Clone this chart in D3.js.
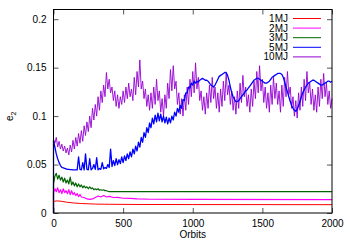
<!DOCTYPE html>
<html>
<head>
<meta charset="utf-8">
<script src="https://cdn.jsdelivr.net/npm/d3@7"></script>
<style>
  body { margin: 0; background: #fff; }
  text { font-family: "Liberation Sans", Arial, sans-serif; }
</style>
</head>
<body>
<svg id="orbit-chart" width="350" height="245"></svg>
<script>
// e2 values
const e2Start = 0
const step10MJ = 10
const step5MJ = 10

const xTicks = [0, 500, 1000, 1500, 2000]
const yTicks = [0, 0.05, 0.1, 0.15, 0.2]
const legendNames = ["1MJ", "2MJ", "3MJ", "5MJ", "10MJ"]

const e2_1MJ = [[0, 0.012], [30, 0.0125], [60, 0.012], [100, 0.011], [150, 0.0103], [200, 0.0098],
  [300, 0.0092], [400, 0.009], [600, 0.0088], [1000, 0.0087], [2000, 0.0086]]

const e2_2MJ = [[0, 0.021], [10, 0.025], [20, 0.022], [30, 0.026], [40, 0.021], [50, 0.024], [60, 0.02],
  [70, 0.025], [80, 0.021], [90, 0.023], [100, 0.02], [110, 0.024], [120, 0.019], [130, 0.023],
  [140, 0.019], [150, 0.021], [160, 0.018], [170, 0.02], [180, 0.017], [190, 0.019], [200, 0.0165],
  [220, 0.016], [240, 0.0145], [260, 0.014], [280, 0.0145], [300, 0.016], [320, 0.0175], [340, 0.0165],
  [360, 0.018], [380, 0.0165], [400, 0.0172], [430, 0.016], [460, 0.0162], [500, 0.0152], [550, 0.015],
  [600, 0.0145], [700, 0.0142], [1000, 0.014], [2000, 0.0138]]

const e2_3MJ = [[0, 0.03], [10, 0.038], [20, 0.041], [30, 0.035], [40, 0.039], [50, 0.034], [60, 0.037],
  [70, 0.032], [80, 0.036], [90, 0.031], [100, 0.034], [110, 0.03], [120, 0.037], [130, 0.029],
  [140, 0.032], [150, 0.028], [160, 0.031], [170, 0.027], [180, 0.03], [190, 0.027], [200, 0.029],
  [210, 0.026], [220, 0.028], [230, 0.026], [240, 0.027], [250, 0.025], [260, 0.027], [270, 0.025],
  [280, 0.026], [290, 0.024], [300, 0.025], [310, 0.024], [320, 0.025], [330, 0.0235], [340, 0.024],
  [350, 0.0235], [360, 0.024], [370, 0.023], [380, 0.023], [390, 0.0225], [400, 0.022],
  [1000, 0.022], [2000, 0.022]]

const e2_5MJ = [
  0.075, 0.068, 0.061, 0.056, 0.052, 0.049, 0.047, 0.0465, 0.046, 0.0455,
  0.045, 0.045, 0.0448, 0.0448, 0.0446, 0.0446, 0.0445, 0.0445, 0.058, 0.045,
  0.0445, 0.052, 0.0445, 0.061, 0.045, 0.0445, 0.056, 0.0445, 0.046, 0.05,
  0.045, 0.057, 0.0445, 0.046, 0.045, 0.052, 0.0455, 0.047, 0.046, 0.05,
  0.047, 0.066, 0.048, 0.054, 0.049, 0.056, 0.05, 0.055, 0.051, 0.058,
  0.052, 0.059, 0.054, 0.061, 0.056, 0.063, 0.058, 0.066, 0.061, 0.069,
  0.064, 0.073, 0.068, 0.078, 0.073, 0.083, 0.078, 0.088, 0.083, 0.093,
  0.088, 0.098, 0.092, 0.101, 0.094, 0.103, 0.095, 0.102, 0.094, 0.1,
  0.093, 0.099, 0.092, 0.098, 0.093, 0.1, 0.096, 0.104, 0.1, 0.108,
  0.104, 0.111, 0.108, 0.117, 0.116, 0.124, 0.124, 0.13, 0.129, 0.134,
  0.132, 0.136, 0.134, 0.136, 0.135, 0.137, 0.138, 0.139, 0.138, 0.137,
  0.137, 0.136, 0.134, 0.132, 0.131, 0.13, 0.132, 0.135, 0.138, 0.141,
  0.142, 0.143, 0.144, 0.145, 0.145, 0.142, 0.137, 0.13, 0.124, 0.12,
  0.117, 0.115, 0.115, 0.116, 0.118, 0.12, 0.122, 0.124, 0.126, 0.127,
  0.129, 0.131, 0.133, 0.135, 0.137, 0.138, 0.139, 0.139, 0.138, 0.137,
  0.136, 0.135, 0.134, 0.134, 0.135, 0.136, 0.138, 0.14, 0.141, 0.142,
  0.143, 0.144, 0.144, 0.144, 0.143, 0.14, 0.135, 0.13, 0.125, 0.12,
  0.115, 0.111, 0.108, 0.106, 0.105, 0.107, 0.111, 0.115, 0.12, 0.124,
  0.127, 0.13, 0.132, 0.134, 0.135, 0.136, 0.137, 0.137, 0.136, 0.135,
  0.134, 0.133, 0.132, 0.132, 0.133, 0.134, 0.135, 0.136, 0.136, 0.135,
  0.136]

const e2_10MJ = [
  0.076, 0.072, 0.078, 0.068, 0.074, 0.066, 0.071, 0.064, 0.069, 0.062,
  0.067, 0.06, 0.07, 0.063, 0.075, 0.066, 0.078, 0.069, 0.082, 0.072,
  0.085, 0.074, 0.09, 0.08, 0.094, 0.084, 0.1, 0.088, 0.108, 0.096,
  0.112, 0.1, 0.12, 0.106, 0.126, 0.114, 0.132, 0.12, 0.145, 0.128,
  0.138, 0.124, 0.13, 0.116, 0.126, 0.11, 0.122, 0.108, 0.12, 0.112,
  0.126, 0.114, 0.13, 0.118, 0.134, 0.12, 0.128, 0.116, 0.14, 0.122,
  0.146, 0.13, 0.158, 0.128, 0.136, 0.118, 0.128, 0.11, 0.122, 0.106,
  0.124, 0.108, 0.13, 0.112, 0.138, 0.116, 0.126, 0.104, 0.118, 0.1,
  0.122, 0.108, 0.134, 0.118, 0.148, 0.126, 0.152, 0.128, 0.136, 0.112,
  0.124, 0.102, 0.118, 0.1, 0.122, 0.106, 0.13, 0.112, 0.138, 0.12,
  0.146, 0.124, 0.155, 0.128, 0.14, 0.116, 0.126, 0.106, 0.12, 0.102,
  0.124, 0.108, 0.132, 0.114, 0.14, 0.118, 0.13, 0.108, 0.124, 0.104,
  0.128, 0.11, 0.136, 0.116, 0.144, 0.122, 0.132, 0.112, 0.126, 0.106,
  0.12, 0.102, 0.126, 0.108, 0.134, 0.114, 0.142, 0.12, 0.13, 0.11,
  0.122, 0.104, 0.128, 0.11, 0.136, 0.118, 0.146, 0.124, 0.152, 0.126,
  0.138, 0.114, 0.13, 0.108, 0.124, 0.104, 0.132, 0.112, 0.14, 0.118,
  0.134, 0.112, 0.126, 0.104, 0.132, 0.11, 0.14, 0.12, 0.146, 0.122,
  0.13, 0.108, 0.12, 0.1, 0.116, 0.098, 0.124, 0.106, 0.13, 0.11,
  0.138, 0.116, 0.146, 0.124, 0.134, 0.112, 0.128, 0.106, 0.122, 0.104,
  0.13, 0.11, 0.138, 0.118, 0.144, 0.12, 0.134, 0.112, 0.126, 0.108,
  0.118]

let margin = { top: 9.5, right: 18, bottom: 32, left: 53.5 }
let width = 350
let height = 245

let svg = d3.select("#orbit-chart")

let x = d3.scaleLinear()
    .domain([0, 2000])
    .range([margin.left, width - margin.right])

let y = d3.scaleLinear()
    .domain([0, 0.21])
    .range([height - margin.bottom, margin.top])

// series as [orbit, e2], each starting at e2 = 0 at orbit 0
let fromPairs = pairs => [[0, e2Start]].concat(pairs)
let fromSteps = (vals, step) => [[0, e2Start]].concat(vals.map((v, i) => [i * step, v]))

let series = [
    { name: "10MJ", color: "#9400d3", width: 0.9, pts: fromSteps(e2_10MJ, step10MJ) },
    { name: "5MJ", color: "#0000ff", width: 1.3, pts: fromSteps(e2_5MJ, step5MJ) },
    { name: "3MJ", color: "#006400", width: 1.2, pts: fromPairs(e2_3MJ) },
    { name: "2MJ", color: "#ff00ff", width: 1.2, pts: fromPairs(e2_2MJ) },
    { name: "1MJ", color: "#ff0000", width: 1, pts: fromPairs(e2_1MJ) }
]
let colorOf = {}
series.forEach(s => colorOf[s.name] = s.color)

let line = d3.line()
    .x(d => x(d[0]))
    .y(d => y(d[1]))

svg.append("g")
    .selectAll("path")
    .data(series)
    .join("path")
    .attr("d", d => line(d.pts))
    .style("fill", "none")
    .style("stroke", d => d.color)
    .style("stroke-width", d => d.width)
    .style("stroke-linejoin", "round")

// axes, ticks pointing inward on all four sides
let tickLen = 5
let xBottom = svg.append("g")
    .attr("transform", `translate(0, ${y(0)})`)
    .call(d3.axisBottom(x).tickValues(xTicks).tickSize(-tickLen).tickPadding(7).tickFormat(d3.format("d")))
let xTop = svg.append("g")
    .attr("transform", `translate(0, ${y(0.21)})`)
    .call(d3.axisTop(x).tickValues(xTicks).tickSize(-tickLen).tickFormat(""))
let yLeft = svg.append("g")
    .attr("transform", `translate(${x(0)}, 0)`)
    .call(d3.axisLeft(y).tickValues(yTicks).tickSize(-tickLen).tickPadding(7).tickFormat(d => d === 0 ? "0" : d3.format("")(d)))
let yRight = svg.append("g")
    .attr("transform", `translate(${x(2000)}, 0)`)
    .call(d3.axisRight(y).tickValues(yTicks).tickSize(-tickLen).tickFormat(""))

svg.selectAll(".domain").remove()
svg.selectAll(".tick line").style("stroke", "#555").style("stroke-width", 1)
svg.selectAll(".tick text")
    .style("font-size", "10px")
    .style("fill", "#000")
    .style("font-family", "'Liberation Sans', Arial, sans-serif")

// frame
svg.append("rect")
    .attr("x", x(0))
    .attr("y", y(0.21))
    .attr("width", x(2000) - x(0))
    .attr("height", y(0) - y(0.21))
    .style("fill", "none")
    .style("stroke", "#000")
    .style("stroke-width", 1)

// axis titles
svg.append("text")
    .attr("x", (x(0) + x(2000)) / 2)
    .attr("y", 238)
    .attr("text-anchor", "middle")
    .style("font-size", "10px")
    .text("Orbits")

let ylab = svg.append("text")
    .attr("transform", `translate(13, ${y(0.105) + 5}) rotate(-90)`)
    .attr("text-anchor", "middle")
    .style("font-size", "10px")
ylab.append("tspan").text("e")
ylab.append("tspan").attr("dy", 3).style("font-size", "7px").text("2")

// legend
let legend = svg.append("g")
    .selectAll("g")
    .data(legendNames)
    .join("g")
    .attr("transform", (d, i) => `translate(0, ${18.5 + i * 9.6})`)

legend.append("text")
    .attr("x", 288)
    .attr("y", 3.5)
    .attr("text-anchor", "end")
    .style("font-size", "10px")
    .text(d => d)

legend.append("line")
    .attr("x1", 293)
    .attr("x2", 321)
    .style("stroke", d => colorOf[d])
    .style("stroke-width", 1)
</script>
</body>
</html>
